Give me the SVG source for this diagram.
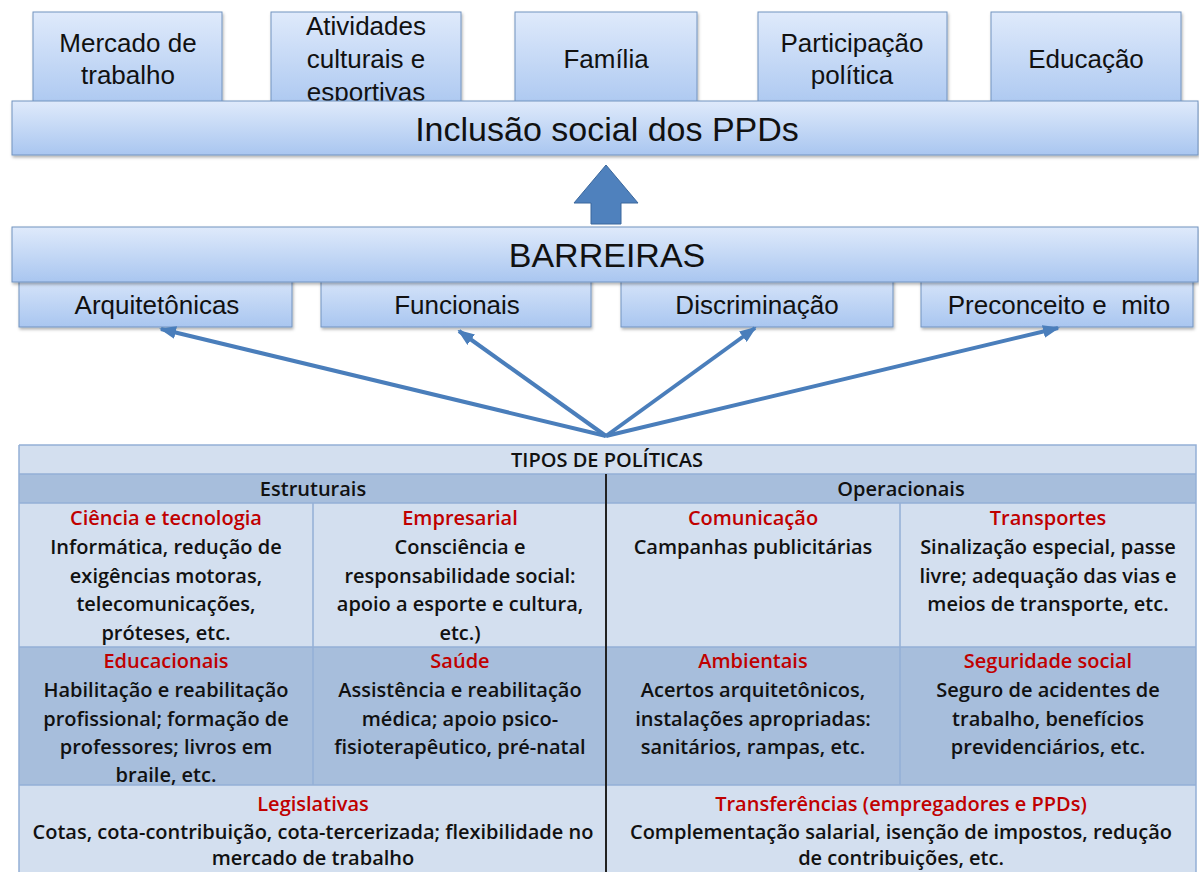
<svg xmlns="http://www.w3.org/2000/svg" width="1199" height="872" viewBox="0 0 1199 872">
<defs>
<linearGradient id="bx" x1="0" y1="0" x2="0" y2="1">
<stop offset="0" stop-color="#dfeafb"/>
<stop offset="1" stop-color="#a9c6f0"/>
</linearGradient>
<filter id="sh" x="-5%" y="-10%" width="110%" height="130%">
<feDropShadow dx="1" dy="2" stdDeviation="1.5" flood-color="#000" flood-opacity="0.3"/>
</filter>
<marker id="ah" markerWidth="17" markerHeight="13" refX="15" refY="6.5" orient="auto" markerUnits="userSpaceOnUse">
<path d="M0,0 L17,6.5 L0,13 Z" fill="#4a7ebb"/>
</marker>
<style>
.box{fill:url(#bx);stroke:#7393c0;stroke-width:1;filter:url(#sh)}
.t{font-family:"Liberation Sans",Arial,sans-serif;font-size:26px;fill:#111;text-anchor:middle}
.big{font-size:34px}
.c{font-family:"Open Sans",Lato,sans-serif;font-weight:600;font-size:20px;fill:#111;text-anchor:middle}
.r{fill:#c00000}
.light{fill:#d3dfef}
.dark{fill:#a7bedc}
.grid{stroke:#94b0d6;stroke-width:1.5;fill:none}
.conn{stroke:#4a7ebb;stroke-width:4;fill:none;marker-end:url(#ah)}
</style>
</defs>
<rect width="1199" height="872" fill="#fff"/>

<g id="mercado"><rect class="box" x="33" y="12" width="189" height="100"/>
<text class="t" x="128" y="52">Mercado de</text><text class="t" x="128" y="84">trabalho</text></g>
<g id="atividades"><rect class="box" x="271" y="12" width="190" height="100"/>
<text class="t" x="366" y="35">Atividades</text><text class="t" x="366" y="68">culturais e</text><text class="t" x="366" y="101">esportivas</text></g>
<g id="familia"><rect class="box" x="515" y="12" width="182" height="100"/>
<text class="t" x="606" y="68">Família</text></g>
<g id="participacao"><rect class="box" x="758" y="12" width="189" height="100"/>
<text class="t" x="852" y="52">Participação</text><text class="t" x="852" y="84">política</text></g>
<g id="educacao"><rect class="box" x="991" y="12" width="190" height="100"/>
<text class="t" x="1086" y="68">Educação</text></g>

<g id="inclusao"><rect class="box" x="12" y="101" width="1186" height="54"/>
<text class="t big" x="607" y="141">Inclusão social dos PPDs</text></g>

<g id="seta"><polygon points="606,165 638,203 621,203 621,224 591,224 591,203 574,203" fill="#4f81bd" stroke="#3a679c" stroke-width="1"/></g>

<g id="arquitetonicas"><rect class="box" x="19" y="270" width="273" height="57"/>
<text class="t" x="157" y="314">Arquitetônicas</text></g>
<g id="funcionais"><rect class="box" x="321" y="270" width="270" height="57"/>
<text class="t" x="457" y="314">Funcionais</text></g>
<g id="discriminacao"><rect class="box" x="621" y="270" width="272" height="57"/>
<text class="t" x="757" y="314">Discriminação</text></g>
<g id="preconceito"><rect class="box" x="921" y="270" width="272" height="57"/>
<text class="t" x="1059" y="314" xml:space="preserve">Preconceito e  mito</text></g>

<g id="barreiras"><rect class="box" x="12" y="227" width="1186" height="55"/>
<text class="t big" x="607" y="267">BARREIRAS</text></g>

<g id="connectors">
<line class="conn" x1="606" y1="436" x2="161" y2="329"/>
<line class="conn" x1="606" y1="436" x2="459" y2="331"/>
<line class="conn" x1="606" y1="436" x2="755" y2="328"/>
<line class="conn" x1="606" y1="436" x2="1058" y2="328"/>
</g>

<g id="tabela">
<rect class="light" x="19" y="445" width="1177" height="29"/>
<rect class="dark" x="19" y="474" width="1177" height="29"/>
<rect class="light" x="19" y="503" width="1177" height="144"/>
<rect class="dark" x="19" y="647" width="1177" height="138"/>
<rect class="light" x="19" y="785" width="1177" height="87"/>
<path class="grid" d="M19,445 H1196 V872 M19,445 V872 M19,474 H1196 M19,503 H1196 M19,647 H1196 M19,785 H1196 M313,503 V785 M900,503 V785"/>
<line x1="606" y1="474" x2="606" y2="872" stroke="#222" stroke-width="2"/>

<text class="c" x="607" y="467">TIPOS DE POLÍTICAS</text>
<text class="c" x="313" y="496">Estruturais</text>
<text class="c" x="901" y="496">Operacionais</text>

<g id="ciencia"><text class="c r" x="166" y="525">Ciência e tecnologia</text>
<text class="c" x="166" y="554">Informática, redução de</text>
<text class="c" x="166" y="583">exigências motoras,</text>
<text class="c" x="166" y="611">telecomunicações,</text>
<text class="c" x="166" y="640">próteses, etc.</text></g>
<g id="empresarial"><text class="c r" x="460" y="525">Empresarial</text>
<text class="c" x="460" y="554">Consciência e</text>
<text class="c" x="460" y="583">responsabilidade social:</text>
<text class="c" x="460" y="611">apoio a esporte e cultura,</text>
<text class="c" x="460" y="640">etc.)</text></g>
<g id="comunicacao"><text class="c r" x="753" y="525">Comunicação</text>
<text class="c" x="753" y="554">Campanhas publicitárias</text></g>
<g id="transportes"><text class="c r" x="1048" y="525">Transportes</text>
<text class="c" x="1048" y="554">Sinalização especial, passe</text>
<text class="c" x="1048" y="583">livre; adequação das vias e</text>
<text class="c" x="1048" y="611">meios de transporte, etc.</text></g>

<g id="educacionais"><text class="c r" x="166" y="668">Educacionais</text>
<text class="c" x="166" y="697">Habilitação e reabilitação</text>
<text class="c" x="166" y="726">profissional; formação de</text>
<text class="c" x="166" y="754">professores; livros em</text>
<text class="c" x="166" y="782">braile, etc.</text></g>
<g id="saude"><text class="c r" x="460" y="668">Saúde</text>
<text class="c" x="460" y="697">Assistência e reabilitação</text>
<text class="c" x="460" y="726">médica; apoio psico-</text>
<text class="c" x="460" y="754">fisioterapêutico, pré-natal</text></g>
<g id="ambientais"><text class="c r" x="753" y="668">Ambientais</text>
<text class="c" x="753" y="697">Acertos arquitetônicos,</text>
<text class="c" x="753" y="726">instalações apropriadas:</text>
<text class="c" x="753" y="754">sanitários, rampas, etc.</text></g>
<g id="seguridade"><text class="c r" x="1048" y="668">Seguridade social</text>
<text class="c" x="1048" y="697">Seguro de acidentes de</text>
<text class="c" x="1048" y="726">trabalho, benefícios</text>
<text class="c" x="1048" y="754">previdenciários, etc.</text></g>

<g id="legislativas"><text class="c r" x="313" y="811">Legislativas</text>
<text class="c" x="313" y="839">Cotas, cota-contribuição, cota-tercerizada; flexibilidade no</text>
<text class="c" x="313" y="865">mercado de trabalho</text></g>
<g id="transferencias"><text class="c r" x="901" y="811">Transferências (empregadores e PPDs)</text>
<text class="c" x="901" y="839">Complementação salarial, isenção de impostos, redução</text>
<text class="c" x="901" y="865">de contribuições, etc.</text></g>
</g>
</svg>
